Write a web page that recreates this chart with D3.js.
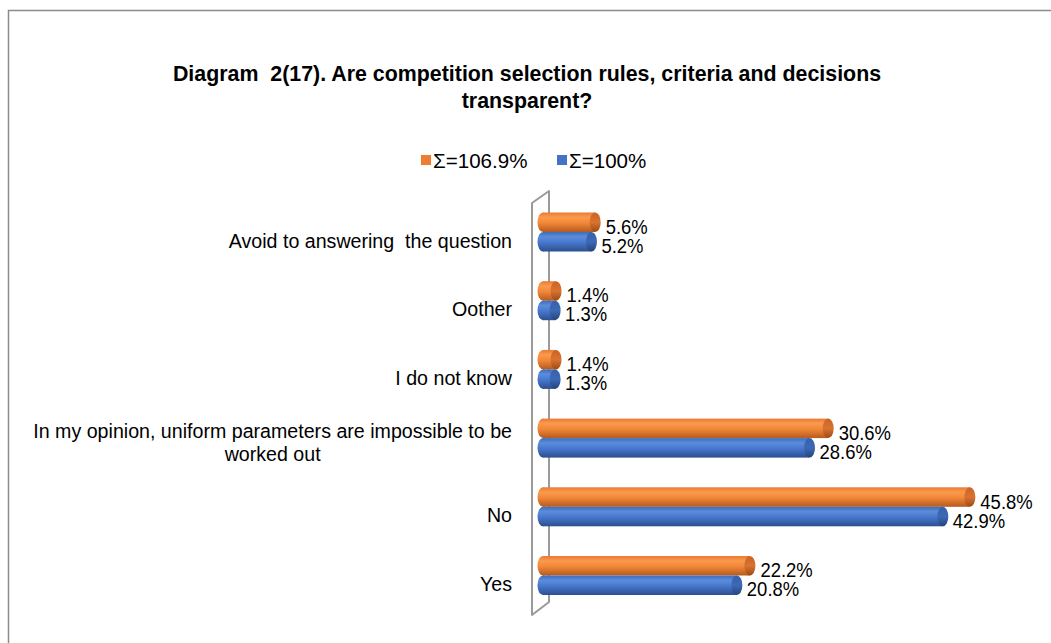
<!DOCTYPE html>
<html>
<head>
<meta charset="utf-8">
<script src="https://cdn.jsdelivr.net/npm/d3@7"></script>
<style>
  html, body { margin: 0; padding: 0; background: #fff; }
  svg { display: block; }
  text { font-family: "Liberation Sans", Arial, sans-serif; fill: #000; white-space: pre; }
</style>
</head>
<body>
<svg id="chart" width="1051" height="643"></svg>
<script>
// Survey answers, listed top to bottom as drawn
const categories = [
  "Avoid to answering  the question",
  "Oother",
  "I do not know",
  "In my opinion, uniform parameters are impossible to be worked out",
  "No",
  "Yes"
];
const seriesNames = ["Σ=106.9%", "Σ=100%"];
const valuesOrange = [5.6, 1.4, 1.4, 30.6, 45.8, 22.2];
const valuesBlue   = [5.2, 1.3, 1.3, 28.6, 42.9, 20.8];
const titleLines = [
  "Diagram  2(17). Are competition selection rules, criteria and decisions",
  "transparent?"
];

const svg = d3.select("#chart");
const W = 1051, H = 643;

// condensed text: glyphs squeezed horizontally around the anchor point
function label(parent, x, y, str, size, sx, anchor, weight) {
  return parent.append("text")
    .attr("transform", `translate(${x},${y}) scale(${sx},1)`)
    .attr("text-anchor", anchor || "start")
    .attr("font-size", size)
    .attr("font-weight", weight || "normal")
    .text(str);
}

// outer chart frame (continues past the right and bottom edges)
svg.append("rect")
  .attr("x", 8.5).attr("y", 10.5)
  .attr("width", W + 20).attr("height", H + 20)
  .attr("fill", "#fff").attr("stroke", "#8c8c8c").attr("stroke-width", 1.5);

// gradients giving the cylinder shading
const defs = svg.append("defs");
function cylGradient(id, stops) {
  const g = defs.append("linearGradient").attr("id", id)
    .attr("x1", 0).attr("y1", 0).attr("x2", 0).attr("y2", 1);
  stops.forEach(([o, c]) => g.append("stop").attr("offset", o).attr("stop-color", c));
}
cylGradient("gOrange", [[0, "#e87a35"], [0.25, "#fb9a4c"], [0.55, "#f08638"], [1, "#b55a1e"]]);
cylGradient("gBlue",   [[0, "#3e6cbc"], [0.25, "#5b8ddb"], [0.55, "#4676cc"], [1, "#2c4f8e"]]);
cylGradient("gOrangeCap", [[0, "#c96426"], [0.5, "#d9732f"], [1, "#9c4a16"]]);
cylGradient("gBlueCap",   [[0, "#3760a8"], [0.5, "#3d69b6"], [1, "#254479"]]);

// title
const tg = svg.append("g");
titleLines.forEach((t, i) => label(tg, 527, 81 + i * 27, t, 22.5, 0.95, "middle", "bold"));

// legend
const legendColors = ["#ed7d31", "#4472c4"];
const legendX = [421, 557];
const lg = svg.append("g");
seriesNames.forEach((name, i) => {
  lg.append("rect").attr("x", legendX[i]).attr("y", 155).attr("width", 10).attr("height", 10)
    .attr("fill", legendColors[i]);
  label(lg, legendX[i] + 12, 168, name, 21, 0.98);
});

// scales
const x = d3.scaleLinear().domain([0, 50]).range([543, 543 + 9.32 * 50]);
const y = d3.scalePoint().domain(categories).range([232, 575.5]);
const barH = 19.5;
const capRx = 5.5;

// back wall of the 3D plot area
svg.append("path")
  .attr("d", "M532,615 L532,203 L549,191 L549,602 Z")
  .attr("fill", "none").attr("stroke", "#9a9a9a").attr("stroke-width", 2)
  .attr("stroke-linejoin", "round");

// category labels (long one wraps onto two centred lines)
const catG = svg.append("g");
const catSize = 21, catSx = 0.935, catRight = 512;
categories.forEach(c => {
  if (c.startsWith("In my opinion")) {
    const l1 = label(catG, catRight, y(c), "In my opinion, uniform parameters are impossible to be", catSize, catSx, "end");
    const w1 = l1.node().getComputedTextLength() * catSx;
    label(catG, catRight - w1 / 2, y(c) + 23, "worked out", catSize, catSx, "middle");
  } else {
    label(catG, catRight, y(c) + 15.5, c, catSize, catSx, "end");
  }
});

// cylinder bars
function drawSeries(values, offset, grad, capGrad) {
  const g = svg.append("g");
  const rows = categories.map((c, i) => ({ c, v: values[i], top: y(c) + offset }));
  g.selectAll(".lcap").data(rows).join("ellipse")
    .attr("cx", x(0)).attr("cy", d => d.top + barH / 2)
    .attr("rx", capRx).attr("ry", barH / 2)
    .attr("fill", `url(#${grad})`);
  g.selectAll(".body").data(rows).join("rect")
    .attr("x", x(0)).attr("y", d => d.top)
    .attr("width", d => x(d.v) - x(0)).attr("height", barH)
    .attr("fill", `url(#${grad})`);
  g.selectAll(".rcap").data(rows).join("ellipse")
    .attr("cx", d => x(d.v)).attr("cy", d => d.top + barH / 2)
    .attr("rx", capRx).attr("ry", barH / 2)
    .attr("fill", `url(#${capGrad})`);
  return rows;
}
const orangeRows = drawSeries(valuesOrange, -barH, "gOrange", "gOrangeCap");
const blueRows = drawSeries(valuesBlue, 0, "gBlue", "gBlueCap");

// value labels
const fmt = v => v.toFixed(1) + "%";
const vg = svg.append("g");
orangeRows.forEach(d => label(vg, x(d.v) + 10.5, d.top + barH / 2 + 11.5, fmt(d.v), 20.5, 0.9));
blueRows.forEach(d => label(vg, x(d.v) + 10, d.top + barH / 2 + 11, fmt(d.v), 20.5, 0.9));
</script>
</body>
</html>
